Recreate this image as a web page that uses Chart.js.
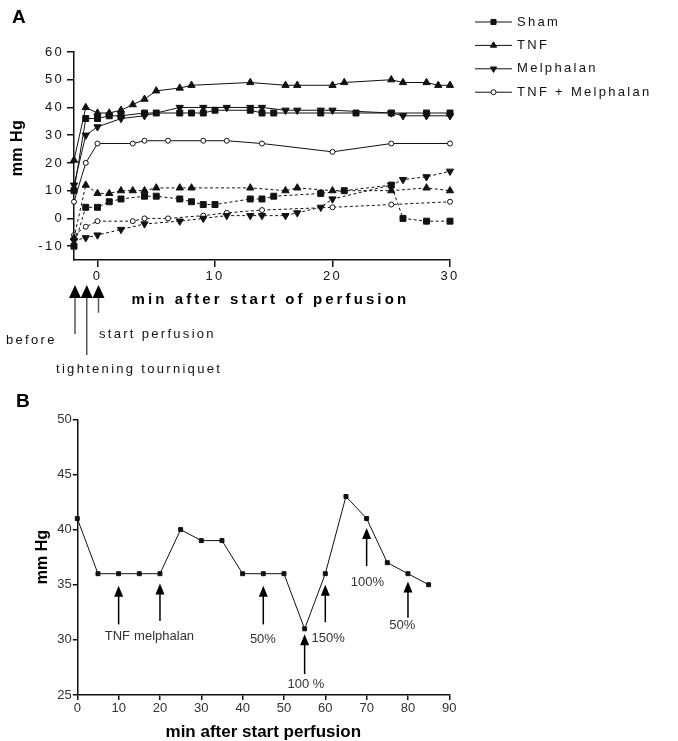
<!DOCTYPE html>
<html>
<head>
<meta charset="utf-8">
<script src="https://cdn.jsdelivr.net/npm/chart.js@4.4.1/dist/chart.umd.min.js"></script>
<style>
  html, body { margin: 0; padding: 0; background: #fff; }
  #wrap { position: relative; width: 678px; height: 741px; }
  #chartA { position: absolute; left: 0; top: 0; }
  #chartB { position: absolute; left: 0; top: 380px; }
</style>
</head>
<body>
<div id="wrap">
  <canvas id="chartA" width="678" height="380"></canvas>
  <canvas id="chartB" width="678" height="361"></canvas>
</div>
<script>
// ---- panel A : pressure per group, solid and dashed traces ----
const shamSolidT = [-2, -1, 0, 1, 2, 4, 5, 7, 8, 9, 10, 13, 14, 15, 19, 22, 25, 28, 30];
const shamSolidV = [10, 36, 36, 37, 37, 38, 38, 38, 38, 38, 39, 39, 38, 38, 38, 38, 38, 38, 38];
const shamDashT = [-2, -1, 0, 1, 2, 4, 5, 7, 8, 9, 10, 13, 14, 15, 19, 21, 25, 26, 28, 30];
const shamDashV = [-10, 4, 4, 6, 7, 8, 8, 7, 6, 5, 5, 7, 7, 8, 9, 10, 12, 0, -1, -1];

const tnfSolidT = [-2, -1, 0, 1, 2, 3, 4, 5, 7, 8, 13, 16, 17, 20, 21, 25, 26, 28, 29, 30];
const tnfSolidV = [21, 40, 38, 38, 39, 41, 43, 46, 47, 48, 49, 48, 48, 48, 49, 50, 49, 49, 48, 48];
const tnfDashT = [-2, -1, 0, 1, 2, 3, 4, 5, 7, 8, 13, 16, 17, 20, 25, 28, 30];
const tnfDashV = [-7, 12, 9, 9, 10, 10, 10, 11, 11, 11, 11, 10, 11, 10, 10, 11, 10];

const melSolidT = [-2, -1, 0, 2, 4, 7, 9, 11, 13, 14, 16, 17, 19, 20, 25, 26, 28, 30];
const melSolidV = [12, 30, 33, 36, 37, 40, 40, 40, 40, 40, 39, 39, 39, 39, 38, 37, 37, 37];
const melDashT = [-2, -1, 0, 2, 4, 7, 9, 11, 13, 14, 16, 17, 19, 20, 25, 26, 28, 30];
const melDashV = [-8, -7, -6, -4, -2, -1, 0, 1, 1, 1, 1, 2, 4, 7, 12, 14, 15, 17];

const comboSolidT = [-2, -1, 0, 3, 4, 6, 9, 11, 14, 20, 25, 30];
const comboSolidV = [6, 20, 27, 27, 28, 28, 28, 28, 27, 24, 27, 27];
const comboDashT = [-2, -1, 0, 3, 4, 6, 9, 11, 14, 20, 25, 30];
const comboDashV = [-6, -3, -1, -1, 0, 0, 1, 2, 3, 4, 5, 6];

const aXTicks = [0, 10, 20, 30];
const aYTicks = [-10, 0, 10, 20, 30, 40, 50, 60];
const aArrowT = [-2, -1, 0];

// ---- panel B : single perfusion trace ----
const bT = [0, 5, 10, 15, 20, 25, 30, 35, 40, 45, 50, 55, 60, 65, 70, 75, 80, 85];
const bV = [41, 36, 36, 36, 36, 40, 39, 39, 36, 36, 36, 31, 36, 43, 41, 37, 36, 35];
const bArrowT = [10, 20, 45, 55, 60, 70, 80];
const bArrowTip = [34.9, 35.1, 34.9, 30.5, 35.0, 40.15, 35.3];
const bArrowTail = [31.4, 31.7, 31.4, 26.9, 31.6, 36.7, 32.0];
const bLabels = ['TNF', 'melphalan', '50%', '100 %', '150%', '100%', '50%'];
const bLabelT = [9.7, 21, 44.9, 55.3, 60.7, 70.2, 78.6];
const bLabelV = [30.3, 30.3, 30.0, 25.95, 30.15, 35.25, 31.27];

const FONT = '"Liberation Sans", Arial, Helvetica, sans-serif';
const INK = '#111';
const pts = (t, v) => t.map((x, i) => ({ x, y: v[i] }));

function text(ctx, s, x, y, font, align, ls, color) {
  ctx.font = font + ' ' + FONT;
  ctx.textAlign = align;
  ctx.textBaseline = 'middle';
  ctx.letterSpacing = ls;
  ctx.fillStyle = color || INK;
  ctx.fillText(s, x, y);
}

function marker(ctx, style, x, y, r, open) {
  ctx.beginPath();
  if (style === 'rect') {
    const s = Math.SQRT1_2 * r;
    ctx.rect(x - s, y - s, 2 * s, 2 * s);
  } else if (style === 'triangle' || style === 'down') {
    const k = style === 'down' ? -1 : 1;
    ctx.moveTo(x, y - k * r);
    ctx.lineTo(x + r * 0.866, y + k * r * 0.5);
    ctx.lineTo(x - r * 0.866, y + k * r * 0.5);
    ctx.closePath();
  } else {
    ctx.arc(x, y, r, 0, Math.PI * 2);
  }
  ctx.fillStyle = open ? '#fff' : INK;
  ctx.strokeStyle = INK;
  ctx.lineWidth = 1;
  ctx.fill();
  ctx.stroke();
}

function arrow(ctx, x, yTip, yTail, w, h, shaft, lw) {
  ctx.strokeStyle = shaft;
  ctx.lineWidth = lw;
  ctx.beginPath();
  ctx.moveTo(x, yTip + h - 1);
  ctx.lineTo(x, yTail);
  ctx.stroke();
  ctx.fillStyle = '#000';
  ctx.beginPath();
  ctx.moveTo(x, yTip);
  ctx.lineTo(x + w / 2, yTip + h);
  ctx.lineTo(x - w / 2, yTip + h);
  ctx.closePath();
  ctx.fill();
}

function series(label, data, style, r, open, dashed) {
  return {
    label, data,
    borderColor: INK, borderWidth: 1, borderDash: dashed ? [3, 2.5] : [],
    pointStyle: style === 'down' ? 'triangle' : style,
    pointRotation: style === 'down' ? 180 : 0,
    pointRadius: r, pointBorderWidth: 1,
    pointBackgroundColor: open ? '#fff' : INK, pointBorderColor: INK,
    tension: 0, clip: false, _legend: !dashed, _style: style, _open: open,
  };
}

function axisOpts(min, max, ticksList, tickLen, pad, color) {
  return {
    type: 'linear', min, max,
    afterBuildTicks: s => { if (ticksList) s.ticks = ticksList.map(v => ({ value: v })); },
    grid: { display: true, drawOnChartArea: false, drawTicks: true, tickLength: tickLen, color: INK, lineWidth: 1.5 },
    border: { display: true, color: INK, width: 1.5 },
    ticks: { color, padding: pad, font: { family: FONT, size: 13 } },
  };
}

// ---------------- panel A ----------------
const legendY0 = 22, legendStep = 23.4;
const panelA = {
  id: 'panelA',
  beforeDraw(chart) { chart.ctx.letterSpacing = '2.3px'; },
  afterDraw(chart) {
    const { ctx, chartArea: a, scales: { x } } = chart;
    ctx.save();
    text(ctx, 'A', 12, 18, 'bold 19px', 'left', '0px', '#000');

    ctx.save();
    ctx.translate(18, 148);
    ctx.rotate(-Math.PI / 2);
    text(ctx, 'mm Hg', 0, 0, 'bold 16px', 'center', '0.5px', '#000');
    ctx.restore();
    text(ctx, 'min after start of perfusion', 131.5, a.bottom + 40, 'bold 15px', 'left', '3.1px', '#000');

    // legend: line + marker + name for the solid traces
    chart.data.datasets.filter(d => d._legend).forEach((d, i) => {
      const y = legendY0 + i * legendStep;
      ctx.strokeStyle = INK; ctx.lineWidth = 1; ctx.setLineDash([]);
      ctx.beginPath(); ctx.moveTo(475, y); ctx.lineTo(512, y); ctx.stroke();
      marker(ctx, d._style, 493.5, y, d._open ? 2.5 : 3.6, d._open);
      text(ctx, d.label, 517, y, '13px', 'left', '2.3px');
    });

    // arrows below the axis
    const tails = [74, 95, 52.7];
    aArrowT.forEach((t, i) => {
      arrow(ctx, x.getPixelForValue(t) + 1, a.bottom + 25, a.bottom + tails[i], 12, 13, '#555', 1.5);
    });
    text(ctx, 'before', 56.7, a.bottom + 80, '13px', 'right', '2.3px');
    text(ctx, 'start perfusion', 99, a.bottom + 74.3, '13px', 'left', '2.3px');
    text(ctx, 'tightening tourniquet', 56, a.bottom + 109.3, '13px', 'left', '2.3px');
    ctx.restore();
  },
};

const xA = axisOpts(-2, 30, aXTicks, 7, 2, INK);
xA.afterFit = s => { s.height = 120; };
const yA = axisOpts(-15, 60, aYTicks, 7, 3, INK);
yA.afterFit = s => { s.width = 74; };

new Chart(document.getElementById('chartA'), {
  type: 'line',
  data: {
    datasets: [
      series('Sham', pts(shamSolidT, shamSolidV), 'rect', 4.2, false, false),
      series('TNF', pts(tnfSolidT, tnfSolidV), 'triangle', 4.2, false, false),
      series('Melphalan', pts(melSolidT, melSolidV), 'down', 4.2, false, false),
      series('TNF + Melphalan', pts(comboSolidT, comboSolidV), 'circle', 2.5, true, false),
      series('Sham', pts(shamDashT, shamDashV), 'rect', 4.2, false, true),
      series('TNF', pts(tnfDashT, tnfDashV), 'triangle', 4.2, false, true),
      series('Melphalan', pts(melDashT, melDashV), 'down', 4.2, false, true),
      series('TNF + Melphalan', pts(comboDashT, comboDashV), 'circle', 2.5, true, true),
    ],
  },
  options: {
    responsive: false, animation: false, events: [],
    layout: { padding: { left: 0, top: 52, right: 228, bottom: 0 } },
    plugins: { legend: { display: false }, tooltip: { enabled: false } },
    scales: { x: xA, y: yA },
  },
  plugins: [panelA],
});

// ---------------- panel B ----------------
const panelB = {
  id: 'panelB',
  beforeDraw(chart) { chart.ctx.letterSpacing = '0px'; },
  afterDraw(chart) {
    const { ctx, scales: { x, y } } = chart;
    ctx.save();
    text(ctx, 'B', 16, 22, 'bold 19px', 'left', '0px', '#000');
    bArrowT.forEach((t, i) => {
      arrow(ctx, x.getPixelForValue(t), y.getPixelForValue(bArrowTip[i]), y.getPixelForValue(bArrowTail[i]), 9, 11, '#000', 1.5);
    });
    bLabels.forEach((s, i) => {
      text(ctx, s, x.getPixelForValue(bLabelT[i]), y.getPixelForValue(bLabelV[i]), '13px', 'center', '0px', '#333');
    });
    ctx.restore();
  },
};

const xB = axisOpts(0, 90, null, 5, 1, '#333');
xB.ticks.stepSize = 10;
xB.title = { display: true, text: 'min after start perfusion', color: '#000', padding: 0, font: { family: FONT, size: 17, weight: 'bold', lineHeight: 1 } };
xB.afterFit = s => { s.height = 46; };
const yB = axisOpts(25, 50, null, 4.5, 1, '#333');
yB.ticks.stepSize = 5;
yB.title = { display: true, text: 'mm Hg', color: '#000', padding: { top: 33.4, bottom: 0 }, font: { family: FONT, size: 16, weight: 'bold', lineHeight: 1.2 } };
yB.afterFit = s => { s.width = 77.3; };

new Chart(document.getElementById('chartB'), {
  type: 'line',
  data: {
    datasets: [{
      label: 'pressure', data: pts(bT, bV),
      borderColor: INK, borderWidth: 1, tension: 0, clip: false,
      pointStyle: 'rect', pointRadius: 2.8, pointBackgroundColor: INK, pointBorderColor: INK, pointBorderWidth: 1,
    }],
  },
  options: {
    responsive: false, animation: false, events: [],
    layout: { padding: { left: 0, top: 39.3, right: 228.7, bottom: 0 } },
    plugins: { legend: { display: false }, tooltip: { enabled: false } },
    scales: { x: xB, y: yB },
  },
  plugins: [panelB],
});
</script>
</body>
</html>
